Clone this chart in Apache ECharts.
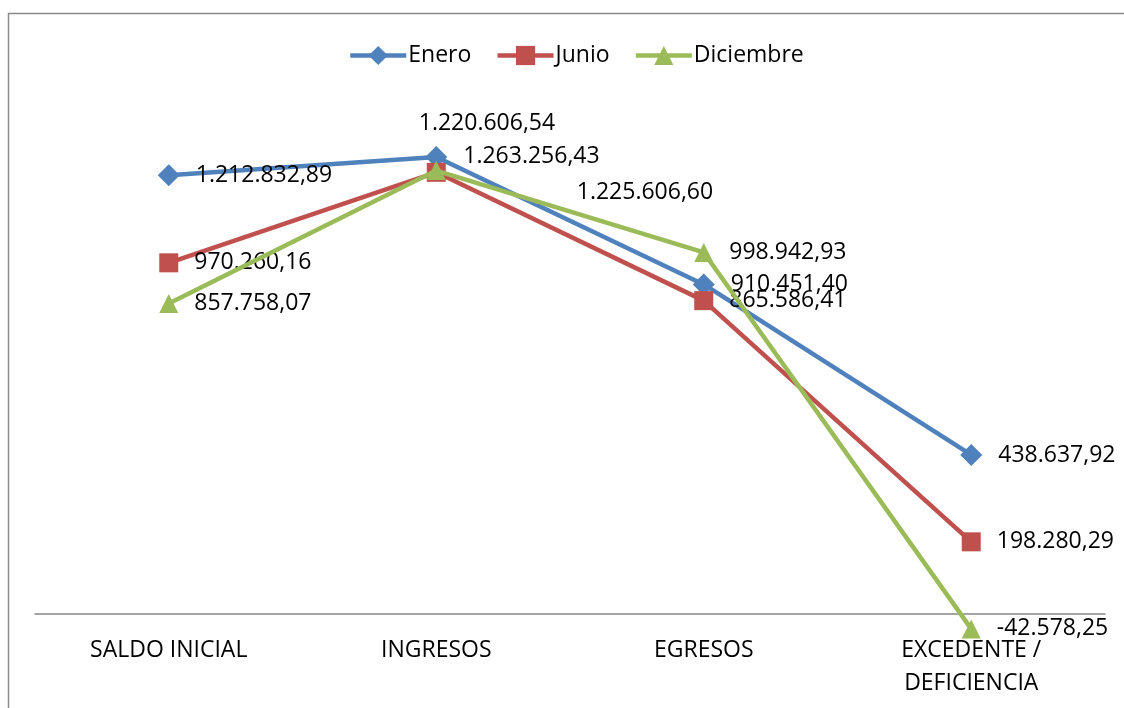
<!DOCTYPE html>
<html>
<head>
<meta charset="utf-8">
<script src="https://cdn.jsdelivr.net/npm/echarts@6/dist/echarts.min.js"></script>
<style>html,body{margin:0;padding:0;background:#fff;}#c{width:1124px;height:708px;}</style>
</head>
<body>
<div id="c"></div>
<script>
const categories = ['SALDO INICIAL', 'INGRESOS', 'EGRESOS', 'EXCEDENTE / DEFICIENCIA'];
const enero = [1212832.89, 1263256.43, 910451.40, 438637.92];
const junio = [970260.16, 1220606.54, 865586.41, 198280.29];
const diciembre = [857758.07, 1225606.60, 998942.93, -42578.25];
const seriesNames = ['Enero', 'Junio', 'Diciembre'];

const FONT = '"Open Sans", "Noto Sans", sans-serif';
function fmt(v) {
  const neg = v < 0;
  const a = Math.abs(v);
  const parts = a.toFixed(2).split('.');
  const intPart = parts[0].replace(/\B(?=(\d{3})+(?!\d))/g, '.');
  return (neg ? '-' : '') + intPart + ',' + parts[1];
}
// manual label nudges (as moved in the original)
const labelOffsets = {
  'Junio': {1: [-43, -49]},
  'Diciembre': {1: [115, 22]}
};
function buildData(name, arr) {
  return arr.map((v, i) => {
    const off = labelOffsets[name] && labelOffsets[name][i];
    return off ? {value: v, label: {offset: off}} : v;
  });
}
const colors = ['#4F81BD', '#C0504D', '#9BBB59'];
const symbols = ['diamond', 'rect', 'triangle'];
const datas = [enero, junio, diciembre];

const chart = echarts.init(document.getElementById('c'), null, {renderer: 'canvas'});
chart.setOption({
  animation: false,
  textStyle: {fontFamily: FONT},
  graphic: [{
    type: 'rect', silent: true, z: -1,
    shape: {x: 8.5, y: 13.5, width: 1300, height: 900},
    style: {fill: null, stroke: '#8a8a8a', lineWidth: 1.5}
  }],
  legend: {
    top: 39, left: 343,
    itemWidth: 56, itemHeight: 24, itemGap: 24,
    lineStyle: {width: 4.5},
    textStyle: {fontSize: 23, color: '#000', fontFamily: FONT, padding: [0, 0, 0, -3]},
    data: seriesNames
  },
  grid: {left: 35, right: 19, top: 107.5, bottom: 94.5, outerBoundsMode: 'none', containLabel: false},
  xAxis: {
    type: 'category', data: categories, boundaryGap: true,
    axisLine: {lineStyle: {color: '#868686', width: 1.5}},
    axisTick: {show: false},
    axisLabel: {
      color: '#000', fontSize: 23, fontFamily: FONT, lineHeight: 33, margin: 20, interval: 0,
      formatter: v => v.replace(' / ', ' /\n')
    }
  },
  yAxis: {
    type: 'value', min: 0, max: 1400000,
    axisLine: {show: false}, axisTick: {show: false}, axisLabel: {show: false}, splitLine: {show: false}
  },
  series: seriesNames.map((n, k) => ({
    name: n, type: 'line',
    data: buildData(n, datas[k]),
    clip: false,
    symbol: symbols[k], symbolSize: k === 0 ? 22 : 19,
    showAllSymbol: true,
    lineStyle: {color: colors[k], width: 4.5},
    itemStyle: {color: colors[k]},
    label: {
      show: true, position: 'right', distance: 16,
      color: '#000', fontSize: 23, fontFamily: FONT,
      formatter: p => fmt(p.value)
    },
    z: 2 + k
  }))
});
</script>
</body>
</html>
